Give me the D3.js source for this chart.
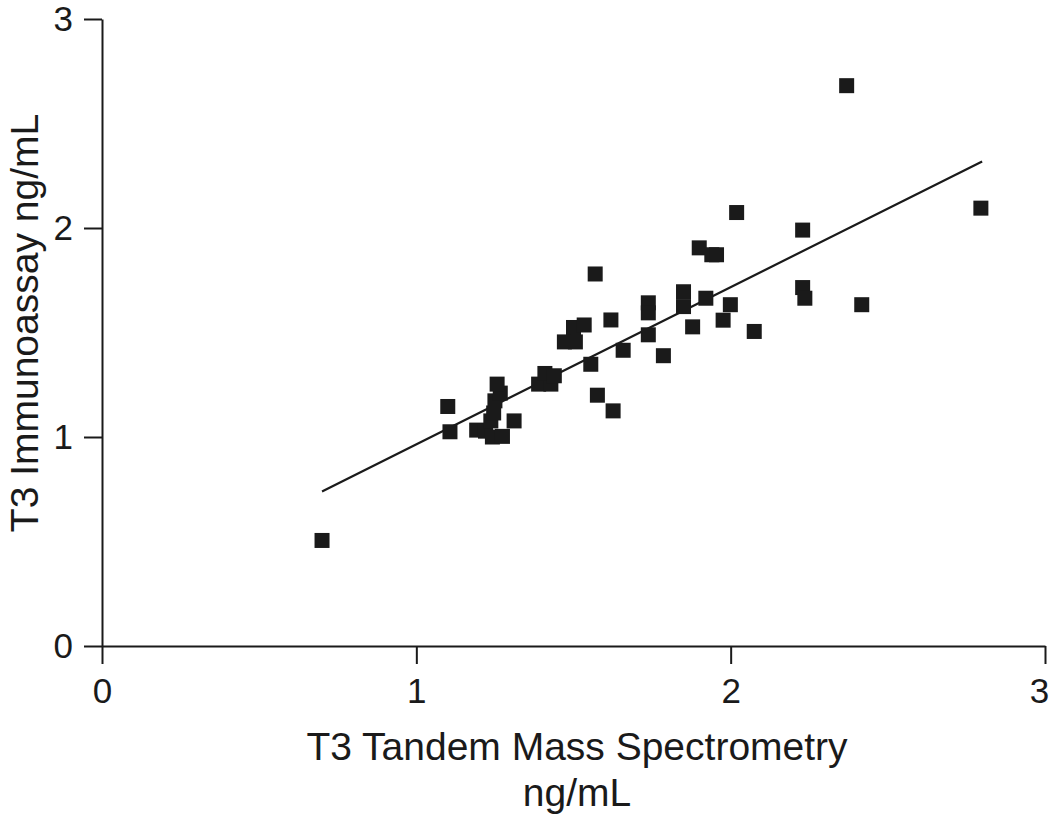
<!DOCTYPE html>
<html>
<head>
<meta charset="utf-8">
<script src="https://cdn.jsdelivr.net/npm/d3@7"></script>
<style>
  html, body { margin: 0; padding: 0; background: #fff; }
  svg { display: block; }
  text { font-family: "Liberation Sans", Arial, sans-serif; fill: #1a1a1a; }
</style>
</head>
<body>
<svg id="chart" width="1050" height="815"></svg>
<script>
// T3 by tandem mass spectrometry (x) vs immunoassay (y), ng/mL
const massSpec = [0.70, 1.10, 1.107, 1.192, 1.22, 1.237, 1.246, 1.25, 1.267, 1.257,
  1.242, 1.274, 1.311, 1.389, 1.428, 1.409, 1.439, 1.471, 1.506, 1.50,
  1.534, 1.555, 1.569, 1.576, 1.619, 1.626, 1.658, 1.738, 1.738, 1.738,
  1.786, 1.85, 1.85, 1.879, 1.90, 1.94, 1.955, 1.921, 1.976, 1.999,
  2.019, 2.075, 2.229, 2.229, 2.236, 2.369, 2.417, 2.796];
const immunoassay = [0.505, 1.146, 1.025, 1.033, 1.028, 1.077, 1.115, 1.173, 1.21, 1.253,
  1.0, 1.003, 1.077, 1.253, 1.253, 1.304, 1.293, 1.455, 1.455, 1.524,
  1.536, 1.348, 1.780, 1.20, 1.56, 1.125, 1.415, 1.642, 1.594, 1.489,
  1.389, 1.695, 1.624, 1.527, 1.905, 1.872, 1.872, 1.664, 1.559, 1.633,
  2.074, 1.505, 1.99, 1.715, 1.664, 2.681, 1.633, 2.095];
const fitSlope = 0.752;
const fitIntercept = 0.213;
const fitRange = [0.70, 2.80];
const xTicks = [0, 1, 2, 3];
const yTicks = [0, 1, 2, 3];
const xTitleLines = ["T3 Tandem Mass Spectrometry", "ng/mL"];
const yTitle = "T3 Immunoassay ng/mL";

const svg = d3.select("#chart");
const x = d3.scaleLinear().domain([0, 3]).range([102, 1045]);
const y = d3.scaleLinear().domain([0, 3]).range([646, 19]);

const ink = "#1a1a1a";

// X axis
const gx = svg.append("g").attr("transform", `translate(0,${y(0)})`)
  .call(d3.axisBottom(x).tickValues(xTicks).tickFormat(d3.format("d"))
    .tickSize(18).tickSizeOuter(0).tickPadding(14));
// Y axis
const gy = svg.append("g").attr("transform", `translate(${x(0)},0)`)
  .call(d3.axisLeft(y).tickValues(yTicks).tickFormat(d3.format("d"))
    .tickSize(18).tickSizeOuter(0).tickPadding(11));

[gx, gy].forEach(g => {
  g.select(".domain").attr("stroke", ink).attr("stroke-width", 2);
  g.selectAll(".tick line").attr("stroke", ink).attr("stroke-width", 2);
  g.selectAll(".tick text").attr("font-size", 35)
    .attr("font-family", "'Liberation Sans', Arial, sans-serif").attr("fill", ink);
});
// keep the last x label inside the picture, as in the reference
gx.selectAll(".tick text").filter(d => d === 3).attr("dx", -6);

// Regression line
svg.append("line")
  .attr("x1", x(fitRange[0])).attr("y1", y(fitIntercept + fitSlope * fitRange[0]))
  .attr("x2", x(fitRange[1])).attr("y2", y(fitIntercept + fitSlope * fitRange[1]))
  .attr("stroke", ink).attr("stroke-width", 2.2);

// Points (squares)
const s = 15;
svg.append("g").selectAll("rect")
  .data(massSpec.map((v, i) => [v, immunoassay[i]]))
  .join("rect")
  .attr("x", d => x(d[0]) - s / 2)
  .attr("y", d => y(d[1]) - s / 2)
  .attr("width", s).attr("height", s)
  .attr("fill", ink);

// Axis titles
const xt = svg.append("text").attr("text-anchor", "middle").attr("font-size", 39);
xTitleLines.forEach((t, i) => {
  xt.append("tspan").attr("x", 577).attr("y", 760 + i * 46).text(t);
});

svg.append("text")
  .attr("text-anchor", "middle")
  .attr("font-size", 39)
  .attr("transform", "translate(38,323) rotate(-90)")
  .text(yTitle);
</script>
</body>
</html>
